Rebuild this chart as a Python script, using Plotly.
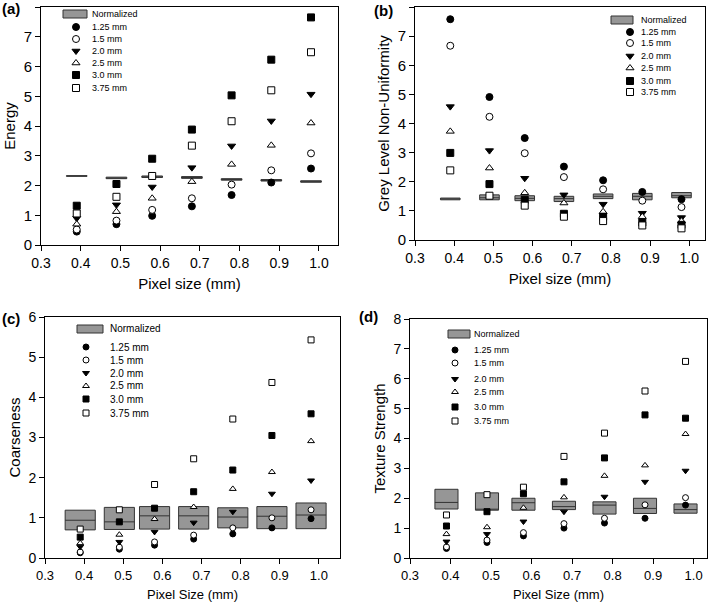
import plotly.graph_objects as go

# pixel sizes (x positions) and phantom sizes
pixel = [0.39, 0.49, 0.58, 0.68, 0.78, 0.88, 0.98]
sizes = ["1.25 mm", "1.5 mm", "2.0 mm", "2.5 mm", "3.0 mm", "3.75 mm"]

# (a) Energy
energy_125 = [0.45, 0.70, 0.98, 1.30, 1.68, 2.10, 2.57]
energy_150 = [0.52, 0.82, 1.18, 1.57, 2.03, 2.51, 3.08]
energy_200 = [0.90, 1.35, 1.95, 2.60, 3.33, 4.17, 5.07]
energy_250 = [0.70, 1.12, 1.57, 2.13, 2.71, 3.35, 4.10]
energy_300 = [1.32, 2.05, 2.90, 3.88, 5.03, 6.23, 7.65]
energy_375 = [1.06, 1.62, 2.32, 3.34, 4.16, 5.20, 6.48]
energy_q1 = [2.31, 2.23, 2.27, 2.24, 2.18, 2.15, 2.11]
energy_med = [2.32, 2.25, 2.29, 2.27, 2.20, 2.17, 2.13]
energy_q3 = [2.33, 2.28, 2.32, 2.30, 2.23, 2.20, 2.16]

# (b) Grey Level Non-Uniformity
glnu_125 = [7.58, 4.91, 3.50, 2.52, 2.05, 1.65, 1.40]
glnu_150 = [6.67, 4.23, 2.98, 2.16, 1.74, 1.35, 1.13]
glnu_200 = [4.58, 3.07, 2.12, 1.55, 1.23, 0.92, 0.77]
glnu_250 = [3.73, 2.47, 1.62, 1.27, 0.97, 0.80, 0.65]
glnu_300 = [2.99, 1.92, 1.38, 0.90, 0.80, 0.60, 0.52]
glnu_375 = [2.39, 1.52, 1.18, 0.80, 0.65, 0.50, 0.40]
glnu_q1 = [1.38, 1.38, 1.35, 1.32, 1.42, 1.38, 1.45]
glnu_med = [1.41, 1.45, 1.43, 1.42, 1.50, 1.50, 1.52]
glnu_q3 = [1.44, 1.55, 1.52, 1.50, 1.58, 1.60, 1.63]

# (c) Coarseness
coarse_125 = [0.13, 0.22, 0.32, 0.47, 0.60, 0.75, 0.98]
coarse_150 = [0.15, 0.27, 0.40, 0.57, 0.75, 1.00, 1.20]
coarse_200 = [0.28, 0.40, 0.65, 0.88, 1.15, 1.60, 1.93]
coarse_250 = [0.37, 0.58, 0.97, 1.27, 1.72, 2.14, 2.91]
coarse_300 = [0.52, 0.90, 1.24, 1.65, 2.19, 3.05, 3.59]
coarse_375 = [0.72, 1.20, 1.83, 2.47, 3.46, 4.37, 5.43]
coarse_q1 = [0.70, 0.71, 0.72, 0.72, 0.75, 0.73, 0.73]
coarse_med = [0.94, 0.90, 1.05, 1.05, 1.02, 1.04, 1.07]
coarse_q3 = [1.19, 1.26, 1.28, 1.28, 1.25, 1.28, 1.37]

# (d) Texture Strength
texture_125 = [0.32, 0.52, 0.74, 1.00, 1.17, 1.33, 1.77]
texture_150 = [0.37, 0.60, 0.85, 1.15, 1.33, 1.78, 2.02]
texture_200 = [0.55, 0.80, 1.22, 1.55, 2.05, 2.55, 2.92]
texture_250 = [0.80, 1.03, 1.68, 2.03, 2.75, 3.10, 4.15]
texture_300 = [1.07, 1.55, 2.15, 2.55, 3.35, 4.79, 4.68]
texture_375 = [1.44, 2.12, 2.37, 3.40, 4.18, 5.59, 6.58]
texture_q1 = [1.64, 1.60, 1.60, 1.62, 1.47, 1.49, 1.50]
texture_med = [1.86, 1.63, 1.85, 1.72, 1.77, 1.66, 1.62]
texture_q3 = [2.30, 2.18, 2.00, 1.90, 1.88, 2.00, 1.81]

# marker style for each phantom size: (symbol, fill)
styles = [("circle", "black"), ("circle", "white"), ("triangle-down", "black"),
          ("triangle-up", "white"), ("square", "black"), ("square", "white")]

panels = [
    dict(series=[energy_125, energy_150, energy_200, energy_250, energy_300, energy_375],
         q1=energy_q1, med=energy_med, q3=energy_q3, bw=0.052, ms=7),
    dict(series=[glnu_125, glnu_150, glnu_200, glnu_250, glnu_300, glnu_375],
         q1=glnu_q1, med=glnu_med, q3=glnu_q3, bw=0.05, ms=7),
    dict(series=[coarse_125, coarse_150, coarse_200, coarse_250, coarse_300, coarse_375],
         q1=coarse_q1, med=coarse_med, q3=coarse_q3, bw=0.077, ms=6),
    dict(series=[texture_125, texture_150, texture_200, texture_250, texture_300, texture_375],
         q1=texture_q1, med=texture_med, q3=texture_q3, bw=0.057, ms=6),
]

W, H = 709, 608
BOX_FILL = "#969696"
BOX_LINE = "#333333"
fig = go.Figure()

for i, p in enumerate(panels):
    xa = "x" if i == 0 else "x%d" % (i + 1)
    ya = "y" if i == 0 else "y%d" % (i + 1)
    fig.add_trace(go.Box(x=pixel, q1=p["q1"], median=p["med"], q3=p["q3"],
                         lowerfence=p["q1"], upperfence=p["q3"], width=p["bw"],
                         whiskerwidth=0, fillcolor=BOX_FILL,
                         line=dict(color=BOX_LINE, width=1),
                         boxpoints=False, xaxis=xa, yaxis=ya, showlegend=False))
    for s, (sym, fill) in zip(p["series"], styles):
        fig.add_trace(go.Scatter(x=pixel, y=s, mode="markers", xaxis=xa, yaxis=ya,
                                 marker=dict(symbol=sym, color=fill, size=p["ms"],
                                             line=dict(color="black", width=1)),
                                 showlegend=False))

axis_common = dict(showline=True, mirror=True, linecolor="black", linewidth=1,
                   ticks="outside", ticklen=5, tickcolor="black", showgrid=False,
                   zeroline=False, color="black", automargin=False)

# pixel boxes -> paper domains
def dom_x(a, b):
    return [a / W, b / W]

def dom_y(top, bottom):
    return [1 - bottom / H, 1 - top / H]

layouts = [
    dict(x=(41, 338), y=(7, 245), xr=[0.3, 1.048], yr=[0, 8], xt="Pixel size (mm)", yt="Energy",
         tf=14, xtf=15),
    dict(x=(415, 705), y=(7, 240), xr=[0.3, 1.04], yr=[0, 8], xt="Pixel size (mm)",
         yt="Grey Level Non-Uniformity", tf=14, xtf=15),
    dict(x=(45, 340), y=(317, 558), xr=[0.3, 1.054], yr=[0, 6], xt="Pixel Size (mm)",
         yt="Coarseness", tf=13, xtf=13),
    dict(x=(410, 707), y=(319, 558), xr=[0.3, 1.033], yr=[0, 8], xt="Pixel Size (mm)",
         yt="Texture Strength", tf=13, xtf=13),
]

lay = {}
for i, L in enumerate(layouts):
    suf = "" if i == 0 else str(i + 1)
    lay["xaxis" + suf] = dict(axis_common, domain=dom_x(*L["x"]), range=L["xr"],
                              tickvals=[0.3, 0.4, 0.5, 0.6, 0.7, 0.8, 0.9, 1.0],
                              tickformat=".1f", tickfont=dict(size=L["tf"]),
                              title=dict(text=L["xt"], font=dict(size=L["xtf"]), standoff=8),
                              anchor="y" + suf)
    lay["yaxis" + suf] = dict(axis_common, domain=dom_y(*L["y"]), range=L["yr"], dtick=1,
                              tickfont=dict(size=L["tf"] + 1),
                              title=dict(text=L["yt"], font=dict(size=15), standoff=4),
                              anchor="x" + suf)

# hidden full-page axes in pixel units, used only for the legend key markers
lay["xaxis5"] = dict(domain=[0, 1], range=[0, W], visible=False, fixedrange=True, anchor="y5")
lay["yaxis5"] = dict(domain=[0, 1], range=[H, 0], visible=False, fixedrange=True, anchor="x5")
fig.update_layout(**lay)

# legend layout in page pixels
legends = [
    dict(rect=(63, 87), sym_x=76, txt_x=90, rows=[14, 27, 39, 51, 63, 75, 88], fs=9, ms=7),
    dict(rect=(611, 633), sym_x=630, txt_x=639, rows=[20, 32, 43, 56, 68, 81, 92], fs=9, ms=7),
    dict(rect=(77, 103), sym_x=86, txt_x=108, rows=[329, 347, 360, 373, 386, 399, 413], fs=10, ms=6),
    dict(rect=(448, 470), sym_x=455, txt_x=472, rows=[334, 350, 363, 379, 392, 407, 421], fs=9, ms=6),
]
annotations = []
shapes = []
for L in legends:
    r0 = L["rows"][0]
    shapes.append(dict(type="rect", xref="paper", yref="paper",
                       x0=L["rect"][0] / W, x1=L["rect"][1] / W,
                       y0=1 - (r0 + 4) / H, y1=1 - (r0 - 4) / H,
                       fillcolor=BOX_FILL, line=dict(color=BOX_LINE, width=1)))
    labels = ["Normalized"] + sizes
    for lab, yy in zip(labels, L["rows"]):
        annotations.append(dict(text=lab, x=L["txt_x"] / W, y=1 - yy / H, xref="paper",
                                yref="paper", xanchor="left", yanchor="middle",
                                showarrow=False, font=dict(size=L["fs"], color="black",
                                                           family="Liberation Sans Narrow, Arial")))

for k, (sym, fill) in enumerate(styles):
    for L in legends:
        fig.add_trace(go.Scatter(x=[L["sym_x"]], y=[L["rows"][k + 1]], mode="markers",
                                 xaxis="x5", yaxis="y5", hoverinfo="skip",
                                 marker=dict(symbol=sym, color=fill, size=L["ms"],
                                             line=dict(color="black", width=1)),
                                 showlegend=False))

# panel letters
for lab, xx, yy in [("(a)", 0, 8), ("(b)", 372, 10), ("(c)", 0, 318), ("(d)", 357, 316)]:
    annotations.append(dict(text="<b>%s</b>" % lab, x=xx / W, y=1 - yy / H, xref="paper",
                            yref="paper", xanchor="left", yanchor="middle", showarrow=False,
                            font=dict(size=15, color="black")))

fig.update_layout(width=W, height=H, margin=dict(l=0, r=0, t=0, b=0),
                  plot_bgcolor="rgba(0,0,0,0)", paper_bgcolor="white",
                  font=dict(family="Liberation Sans, Arial", color="black"),
                  annotations=annotations, shapes=shapes, showlegend=False)

# the page body has a default 8px margin; drop it so the figure fills the window
fig.write_html("out.html", config={"displayModeBar": False},
               post_script="document.body.style.margin='0';")
